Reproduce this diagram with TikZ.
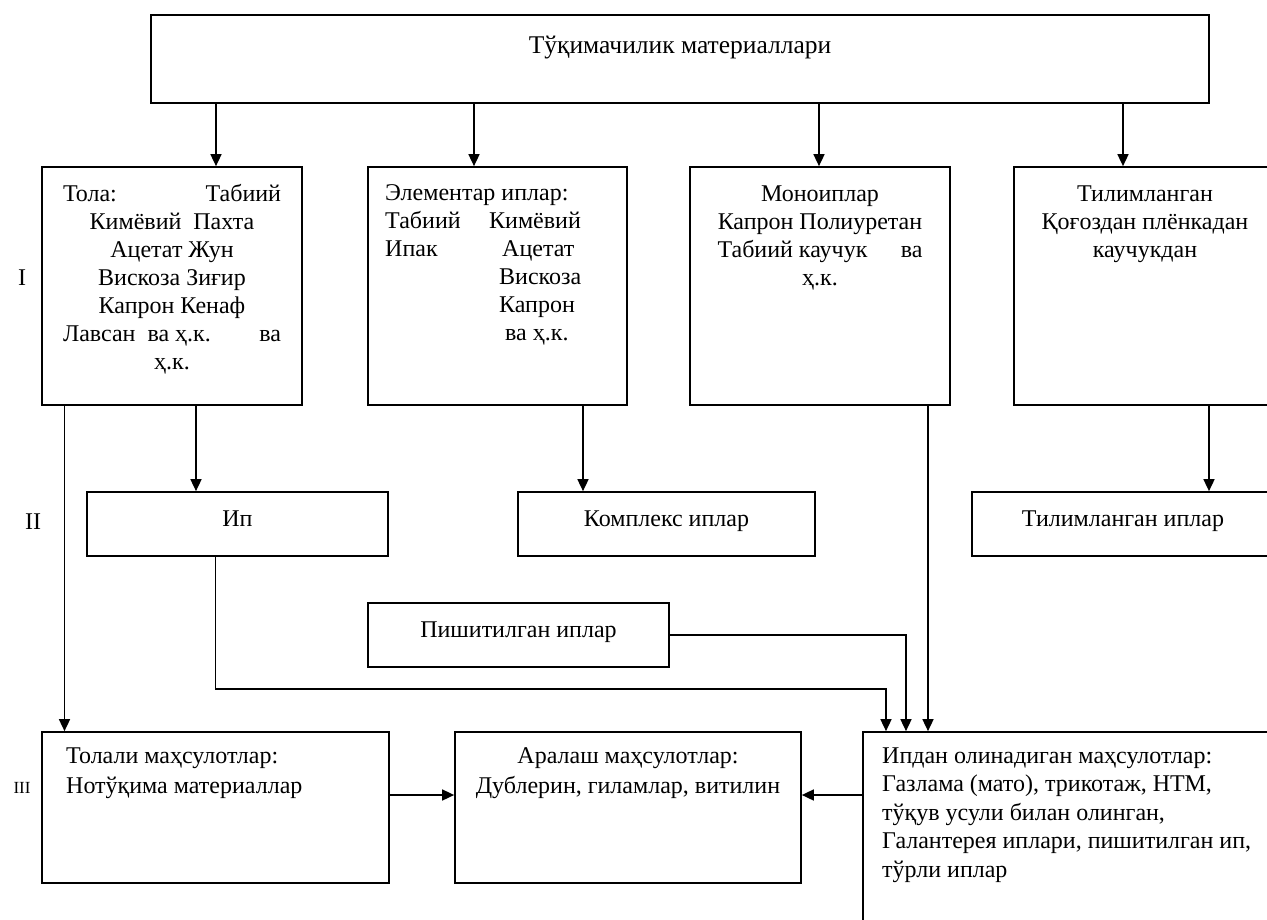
\documentclass[tikz,border=0pt]{standalone}
\usepackage{fontspec}
\setmainfont{Liberation Serif}
\usetikzlibrary{arrows.meta}
\begin{document}
\begin{tikzpicture}[x=1pt,y=-1pt,
  box/.style={draw, line width=1.7pt, inner sep=0pt, anchor=center},
  txt/.style={inner sep=0pt, font=\fontsize{24}{28}\selectfont},
  arr/.style={line width=1.6pt, -{Triangle[length=12pt,width=11pt]}}]
\useasboundingbox (0,0) rectangle (1267,919);
% boxes
\node[box, minimum width=1058pt, minimum height=88pt] (top) at (680,59) {};
\node[box, minimum width=260pt, minimum height=238pt] (tola) at (172,286) {};
\node[box, minimum width=259pt, minimum height=238pt] (elem) at (497.5,286) {};
\node[box, minimum width=260pt, minimum height=238pt] (mono) at (820,286) {};
\node[box, minimum width=262pt, minimum height=238pt] (tilim) at (1145,286) {};
\node[box, minimum width=301pt, minimum height=64pt] (ip) at (237.5,524) {};
\node[box, minimum width=297pt, minimum height=64pt] (komp) at (666.5,524) {};
\node[box, minimum width=302pt, minimum height=64pt] (tilip) at (1123,524) {};
\node[box, minimum width=301pt, minimum height=64pt] (pish) at (518.5,635) {};
\node[box, minimum width=347pt, minimum height=151pt] (tolali) at (215.5,807.5) {};
\node[box, minimum width=346pt, minimum height=151pt] (aral) at (628,807.5) {};
\node[box, minimum width=427pt, minimum height=208pt] (ipdan) at (1076.5,836) {};
% texts
\node[txt, anchor=base, font=\fontsize{25.5}{28}\selectfont] (toptxt) at (680,53) {Тўқимачилик материаллари};
\node[txt, anchor=base] (tolatxt) at (172,201) {\begin{tabular}[t]{@{}c@{}}\makebox[218pt]{Тола:\hfill Табиий}\\ Кимёвий\ \ Пахта\\ Ацетат Жун\\ Вискоза Зиғир\\ Капрон Кенаф\\ \makebox[218pt]{Лавсан\ \ ва ҳ.к.\hfill ва}\\ ҳ.к.\end{tabular}};
\node[txt, anchor=base west] (elemtxt) at (385,200) {\begin{tabular}[t]{@{}p{104pt}@{}l@{}}\multicolumn{2}{@{}l@{}}{Элементар иплар:}\\ Табиий & Кимёвий\\ Ипак & \hspace*{13pt}Ацетат\\ & \hspace*{10pt}Вискоза\\ & \hspace*{10pt}Капрон\\ & \hspace*{16pt}ва ҳ.к.\end{tabular}};
\node[txt, anchor=base] (monotxt) at (820,201) {\begin{tabular}[t]{@{}c@{}}Моноиплар\\ Капрон Полиуретан\\ \makebox[205pt]{Табиий каучук\hfill ва}\\ ҳ.к.\end{tabular}};
\node[txt, anchor=base] (tilimtxt) at (1145,201) {\begin{tabular}[t]{@{}c@{}}Тилимланган\\ Қоғоздан плёнкадан\\ каучукдан\end{tabular}};
\node[txt, anchor=base] (iptxt) at (237.5,526) {Ип};
\node[txt, anchor=base] (komptxt) at (666.5,526) {Комплекс иплар};
\node[txt, anchor=base] (tiliptxt) at (1123,526) {Тилимланган иплар};
\node[txt, anchor=base] (pishtxt) at (518.5,637) {Пишитилган иплар};
\node[txt, anchor=base west, font=\fontsize{24}{30}\selectfont] (tolalitxt) at (66,763) {\begin{tabular}[t]{@{}l@{}}Толали маҳсулотлар:\\ Нотўқима материаллар\end{tabular}};
\node[txt, anchor=base, font=\fontsize{24}{30}\selectfont] (araltxt) at (628,763) {\begin{tabular}[t]{@{}c@{}}Аралаш маҳсулотлар:\\ Дублерин, гиламлар, витилин\end{tabular}};
\node[txt, anchor=base west, font=\fontsize{24}{28.5}\selectfont] (ipdantxt) at (882,763) {\begin{tabular}[t]{@{}l@{}}Ипдан олинадиган маҳсулотлар:\\ Газлама (мато), трикотаж, НТМ,\\ тўқув усули билан олинган,\\ Галантерея иплари, пишитилган ип,\\ тўрли иплар\end{tabular}};
\node[txt, anchor=base] (r1) at (22,285) {I};
\node[txt, anchor=base] (r2) at (33,529) {II};
\node[txt, anchor=base, font=\fontsize{17}{20}\selectfont] (r3) at (22,793) {III};
% helper coordinates
\coordinate (xa) at (216,0);
\coordinate (xb) at (474,0);
\coordinate (xc) at (819,0);
\coordinate (xd) at (1123,0);
\coordinate (xe) at (196,0);
\coordinate (xf) at (64.5,0);
\coordinate (xg) at (583,0);
\coordinate (xh) at (1209,0);
\coordinate (xi) at (215.5,0);
\coordinate (yi) at (0,689);
\coordinate (xj) at (886,0);
\coordinate (xk) at (906,0);
\coordinate (xl) at (928,0);
\coordinate (ym) at (0,795);
% connectors
\draw[arr] (top.south -| xa) -- (tola.north -| xa);
\draw[arr] (top.south -| xb) -- (elem.north -| xb);
\draw[arr] (top.south -| xc) -- (mono.north -| xc);
\draw[arr] (top.south -| xd) -- (tilim.north -| xd);
\draw[arr] (tola.south -| xe) -- (ip.north -| xe);
\draw[arr] (tola.south -| xf) -- (tolali.north -| xf);
\draw[arr] (elem.south -| xg) -- (komp.north -| xg);
\draw[arr] (tilim.south -| xh) -- (tilip.north -| xh);
\draw[arr] (ip.south -| xi) |- (xj |- yi) -- (ipdan.north -| xj);
\draw[arr] (pish.east) -| (ipdan.north -| xk);
\draw[arr] (mono.south -| xl) -- (ipdan.north -| xl);
\draw[arr] (tolali.east |- ym) -- (aral.west |- ym);
\draw[arr] (ipdan.west |- ym) -- (aral.east |- ym);
\end{tikzpicture}
\end{document}
